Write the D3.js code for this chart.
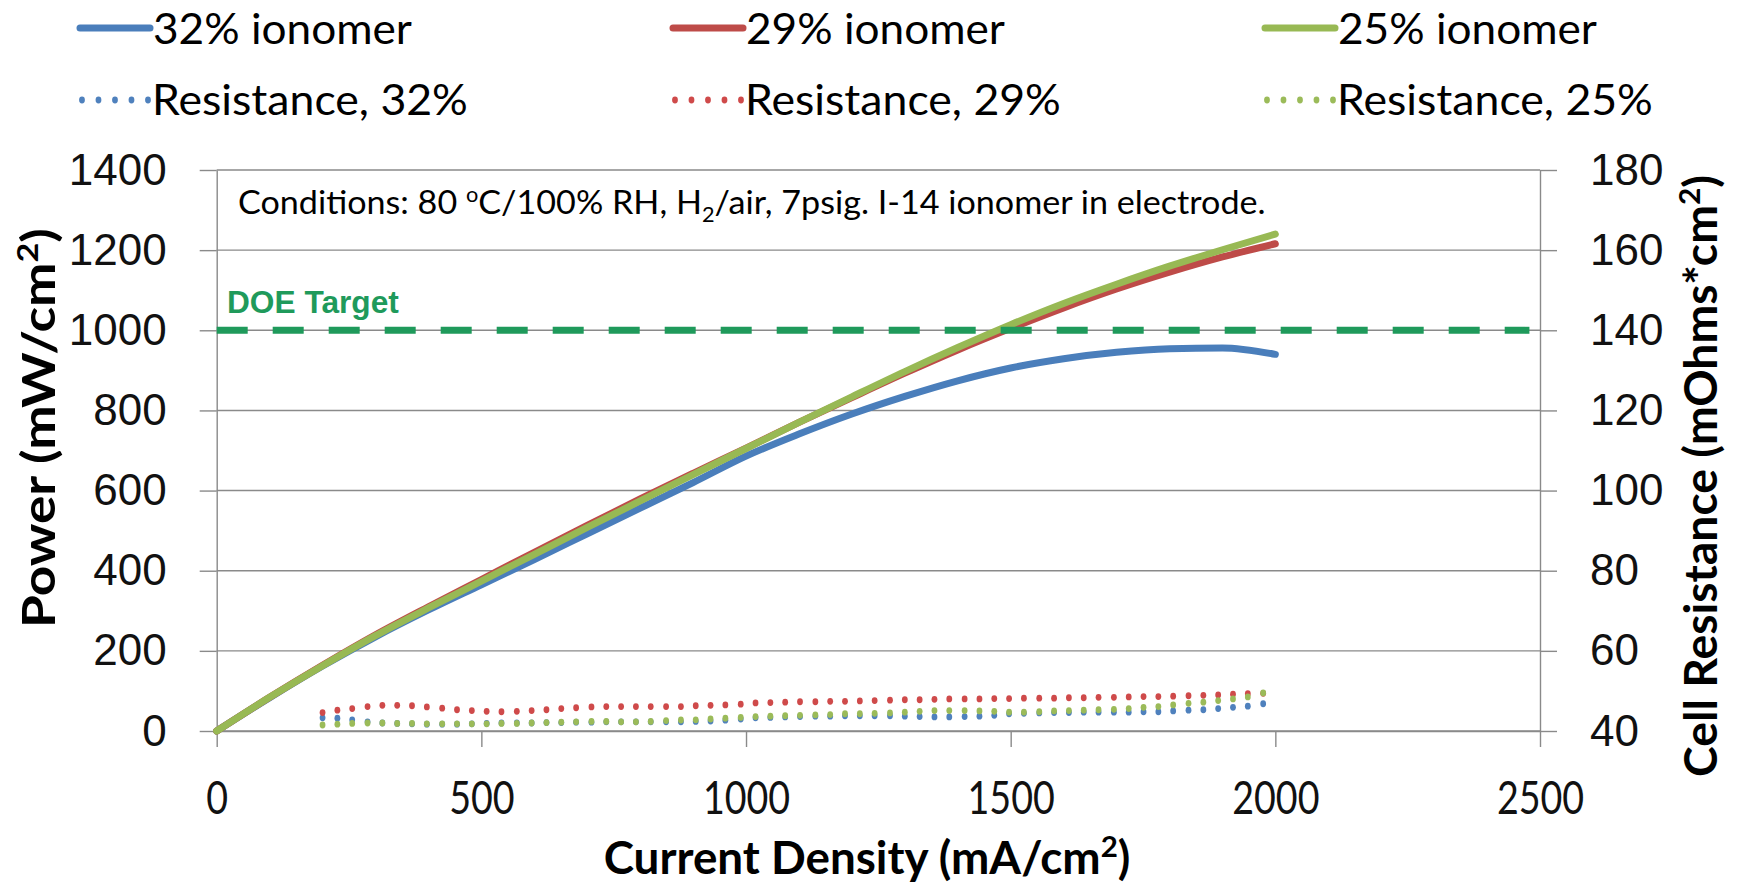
<!DOCTYPE html>
<html>
<head>
<meta charset="utf-8">
<script src="https://cdn.jsdelivr.net/npm/d3@7"></script>
<style>
  html, body { margin: 0; padding: 0; background: #ffffff; }
  svg { display: block; }
</style>
</head>
<body>
<svg id="chart" width="1738" height="887"></svg>
<script>
// ---- data ----------------------------------------------------------
const currentDensity = [0, 100, 200, 300, 400, 500, 600, 700, 800, 900, 1000,
  1100, 1200, 1300, 1400, 1500, 1600, 1700, 1800, 1900, 2000];
const power32 = [0, 83, 162, 235, 302, 365, 428, 492, 556, 620, 686,
  741, 791, 835, 874, 906, 929, 945, 954, 956, 940];
const power29 = [0, 84, 164, 240, 310, 378, 446, 513, 579, 643, 706,
  770, 832, 893, 951, 1005, 1056, 1103, 1145, 1183, 1216];
const power25 = [0, 84, 163, 238, 307, 374, 441, 508, 574, 640, 705,
  770, 834, 897, 957, 1014, 1067, 1115, 1160, 1201, 1240];

const resCurrent = [200, 228, 256, 285, 313, 341, 369, 397, 426, 454, 482, 510,
  538, 567, 595, 623, 651, 679, 708, 736, 764, 792, 820, 849, 877, 905, 933, 961,
  990, 1018, 1046, 1074, 1102, 1131, 1159, 1187, 1215, 1243, 1272, 1300, 1328,
  1356, 1384, 1413, 1441, 1469, 1497, 1525, 1554, 1582, 1610, 1638, 1666, 1695,
  1723, 1751, 1779, 1807, 1836, 1864, 1892, 1920, 1948, 1977];
const res32 = [43.3, 43.2, 42.8, 42.3, 42.0, 41.9, 41.8, 41.7, 41.7, 41.7, 41.8,
  41.9, 42.0, 42.0, 42.0, 42.1, 42.1, 42.2, 42.2, 42.3, 42.3, 42.3, 42.3, 42.3,
  42.3, 42.4, 42.5, 42.7, 43.0, 43.3, 43.4, 43.5, 43.6, 43.7, 43.7, 43.8, 43.8,
  43.8, 43.8, 43.7, 43.6, 43.5, 43.5, 43.6, 43.7, 43.9, 44.3, 44.4, 44.5, 44.6,
  44.6, 44.7, 44.7, 44.7, 44.7, 44.8, 44.8, 45.0, 45.2, 45.3, 45.6, 45.9, 46.2,
  46.8];
const res29 = [44.6, 45.2, 45.6, 46.1, 46.4, 46.4, 46.3, 46.0, 45.7, 45.3, 45.1,
  44.9, 44.8, 44.9, 45.1, 45.3, 45.6, 45.8, 46.0, 46.1, 46.1, 46.1, 46.1, 46.1,
  46.1, 46.3, 46.4, 46.5, 46.7, 47.0, 47.1, 47.2, 47.3, 47.3, 47.4, 47.4, 47.5,
  47.6, 47.7, 47.8, 47.8, 47.9, 48.0, 48.0, 48.0, 48.1, 48.1, 48.2, 48.2, 48.2,
  48.3, 48.3, 48.4, 48.4, 48.5, 48.6, 48.6, 48.7, 48.8, 48.9, 49.0, 49.2, 49.3,
  49.4];
const res25 = [41.5, 41.7, 41.9, 42.0, 42.0, 41.9, 41.9, 41.8, 41.8, 41.8, 41.8,
  41.8, 41.9, 41.9, 42.0, 42.1, 42.2, 42.3, 42.4, 42.4, 42.3, 42.3, 42.4, 42.6,
  42.75, 42.8, 43.0, 43.2, 43.4, 43.6, 43.7, 43.8, 43.9, 44.0, 44.1, 44.3, 44.3,
  44.4, 44.5, 44.7, 44.9, 45.1, 45.1, 45.1, 45.0, 44.9, 44.7, 44.7, 44.8, 45.0,
  45.1, 45.2, 45.3, 45.4, 45.6, 45.9, 46.1, 46.5, 46.9, 47.2, 47.6, 48.0, 48.5,
  49.5];

const powerTicks = [0, 200, 400, 600, 800, 1000, 1200, 1400];
const resistanceTicks = [40, 60, 80, 100, 120, 140, 160, 180];
const currentTicks = [0, 500, 1000, 1500, 2000, 2500];
const doeTarget = 1000;

const powerLabels = ["32% ionomer", "29% ionomer", "25% ionomer"];
const resistanceLabels = ["Resistance, 32%", "Resistance, 29%", "Resistance, 25%"];

// ---- styling -------------------------------------------------------
const lineColors = ["#4A7EBB", "#BE4B48", "#98B954"];
const dotColors = ["#4F81BD", "#CF4A4A", "#9BBB59"];
const gridColor = "#8a8a8a";
const doeColor = "#1F9A5B";
const textFont = "Lato, 'Open Sans', sans-serif";
const numFont = "'Liberation Sans', Arial, sans-serif";

const svg = d3.select("#chart");
const plot = { left: 216.7, right: 1540, top: 170, bottom: 731 };

const x = d3.scaleLinear().domain([0, 2500]).range([plot.left, plot.right]);
const yPower = d3.scaleLinear().domain([0, 1400]).range([plot.bottom, plot.top]);
const yRes = d3.scaleLinear().domain([40, 180]).range([plot.bottom, plot.top]);

// squeeze/stretch a text element horizontally to a given advance width
function fitWidth(sel, target) {
  const w = sel.node().getComputedTextLength();
  sel.attr("transform", `scale(${target / w},1)`);
  return sel;
}

// ---- grid ----------------------------------------------------------
svg.append("g")
  .selectAll("line")
  .data(powerTicks)
  .join("line")
  .attr("x1", plot.left).attr("x2", plot.right)
  .attr("y1", d => yPower(d)).attr("y2", d => yPower(d))
  .attr("stroke", gridColor).attr("stroke-width", 1.4);

// ---- axes ----------------------------------------------------------
function styleAxis(g) {
  g.select(".domain").attr("stroke", gridColor).attr("stroke-width", 1.4);
  g.selectAll(".tick line").attr("stroke", gridColor).attr("stroke-width", 1.4);
  g.selectAll(".tick text").attr("fill", "#111");
}

const axisLeft = svg.append("g")
  .attr("transform", `translate(${plot.left},0)`)
  .call(d3.axisLeft(yPower).tickValues(powerTicks).tickSize(17).tickSizeOuter(0)
    .tickPadding(33).tickFormat(d3.format("d")))
  .attr("font-family", numFont).attr("font-size", 44);
styleAxis(axisLeft);

const axisRight = svg.append("g")
  .attr("transform", `translate(${plot.right},0)`)
  .call(d3.axisRight(yRes).tickValues(resistanceTicks).tickSize(17).tickSizeOuter(0)
    .tickPadding(33).tickFormat(d3.format("d")))
  .attr("font-family", numFont).attr("font-size", 44);
styleAxis(axisRight);

const axisBottom = svg.append("g")
  .attr("transform", `translate(0,${plot.bottom})`)
  .call(d3.axisBottom(x).tickValues(currentTicks).tickSize(16).tickSizeOuter(0)
    .tickPadding(34).tickFormat(d3.format("d")))
  .attr("font-family", textFont).attr("font-size", 47);
styleAxis(axisBottom);
axisBottom.selectAll(".tick text").attr("transform", "scale(0.8,1)");

// ---- power curves --------------------------------------------------
const powerLine = d3.line()
  .x((d, i) => x(currentDensity[i]))
  .y(d => yPower(d))
  .curve(d3.curveMonotoneX);

[power32, power29, power25].forEach((series, k) => {
  svg.append("path")
    .attr("d", powerLine(series))
    .attr("fill", "none")
    .attr("stroke", lineColors[k])
    .attr("stroke-width", 7)
    .attr("stroke-linejoin", "round")
    .attr("stroke-linecap", "round");
});

// ---- resistance dots -----------------------------------------------
[res32, res29, res25].forEach((series, k) => {
  svg.append("g")
    .selectAll("ellipse")
    .data(series)
    .join("ellipse")
    .attr("cx", (d, i) => x(resCurrent[i]))
    .attr("cy", d => yRes(d))
    .attr("rx", 2.9).attr("ry", 3.4)
    .attr("fill", dotColors[k]);
});

// ---- DOE target ----------------------------------------------------
svg.append("line")
  .attr("x1", x(0)).attr("x2", x(2480))
  .attr("y1", yPower(doeTarget)).attr("y2", yPower(doeTarget))
  .attr("stroke", doeColor).attr("stroke-width", 7)
  .attr("stroke-dasharray", "31,25");

const doeLabel = svg.append("g").attr("transform", "translate(227,313)")
  .append("text")
  .attr("font-family", numFont).attr("font-weight", "bold").attr("font-size", 31)
  .attr("fill", doeColor)
  .text("DOE Target");
fitWidth(doeLabel, 172);

// ---- conditions note -----------------------------------------------
const noteGroup = svg.append("g").attr("transform", "translate(238,214)");
const note = noteGroup.append("text")
  .attr("font-family", textFont).attr("font-size", 33).attr("fill", "#000");
note.append("tspan").text("Conditions: 80 ");
note.append("tspan").attr("font-size", 21).attr("dy", -12).text("o");
note.append("tspan").attr("dy", 12).text("C/100% RH, H");
note.append("tspan").attr("font-size", 21).attr("dy", 8).text("2");
note.append("tspan").attr("dy", -8).text("/air, 7psig. I-14 ionomer in electrode.");
fitWidth(note, 1028);

// ---- axis titles ---------------------------------------------------
function titleText(parent, main, sup, tail) {
  const t = parent.append("text")
    .attr("font-family", textFont).attr("font-weight", "bold")
    .attr("font-size", 45).attr("text-anchor", "middle").attr("fill", "#000");
  t.append("tspan").text(main);
  t.append("tspan").attr("font-size", 29).attr("dy", -17).text(sup);
  t.append("tspan").attr("dy", 17).text(tail);
  return t;
}

const gLeft = svg.append("g").attr("transform", "translate(55,428) rotate(-90)");
fitWidth(titleText(gLeft, "Power (mW/cm", "2", ")"), 400);

const gRight = svg.append("g").attr("transform", "translate(1717,476) rotate(-90)");
fitWidth(titleText(gRight, "Cell Resistance (mOhms*cm", "2", ")"), 602);

const gBottom = svg.append("g").attr("transform", "translate(867,874)");
fitWidth(titleText(gBottom, "Current Density (mA/cm", "2", ")"), 527);

// ---- legend --------------------------------------------------------
const legendCols = [80, 673, 1265];
const legend = svg.append("g");
legendCols.forEach((cx, k) => {
  legend.append("line")
    .attr("x1", cx).attr("x2", cx + 70)
    .attr("y1", 28).attr("y2", 28)
    .attr("stroke", lineColors[k]).attr("stroke-width", 7)
    .attr("stroke-linecap", "round");
  legend.append("g")
    .selectAll("ellipse")
    .data([0, 1, 2, 3, 4])
    .join("ellipse")
    .attr("cx", d => cx + 2 + d * 16.5)
    .attr("cy", 100)
    .attr("rx", 2.9).attr("ry", 3.4)
    .attr("fill", dotColors[k]);
  const t1 = legend.append("g").attr("transform", `translate(${cx + 73},44)`)
    .append("text").attr("font-family", textFont).attr("font-size", 43)
    .attr("fill", "#000").text(powerLabels[k]);
  fitWidth(t1, 259);
  const t2 = legend.append("g").attr("transform", `translate(${cx + 72},115)`)
    .append("text").attr("font-family", textFont).attr("font-size", 43)
    .attr("fill", "#000").text(resistanceLabels[k]);
  fitWidth(t2, 316);
});
</script>
</body>
</html>
